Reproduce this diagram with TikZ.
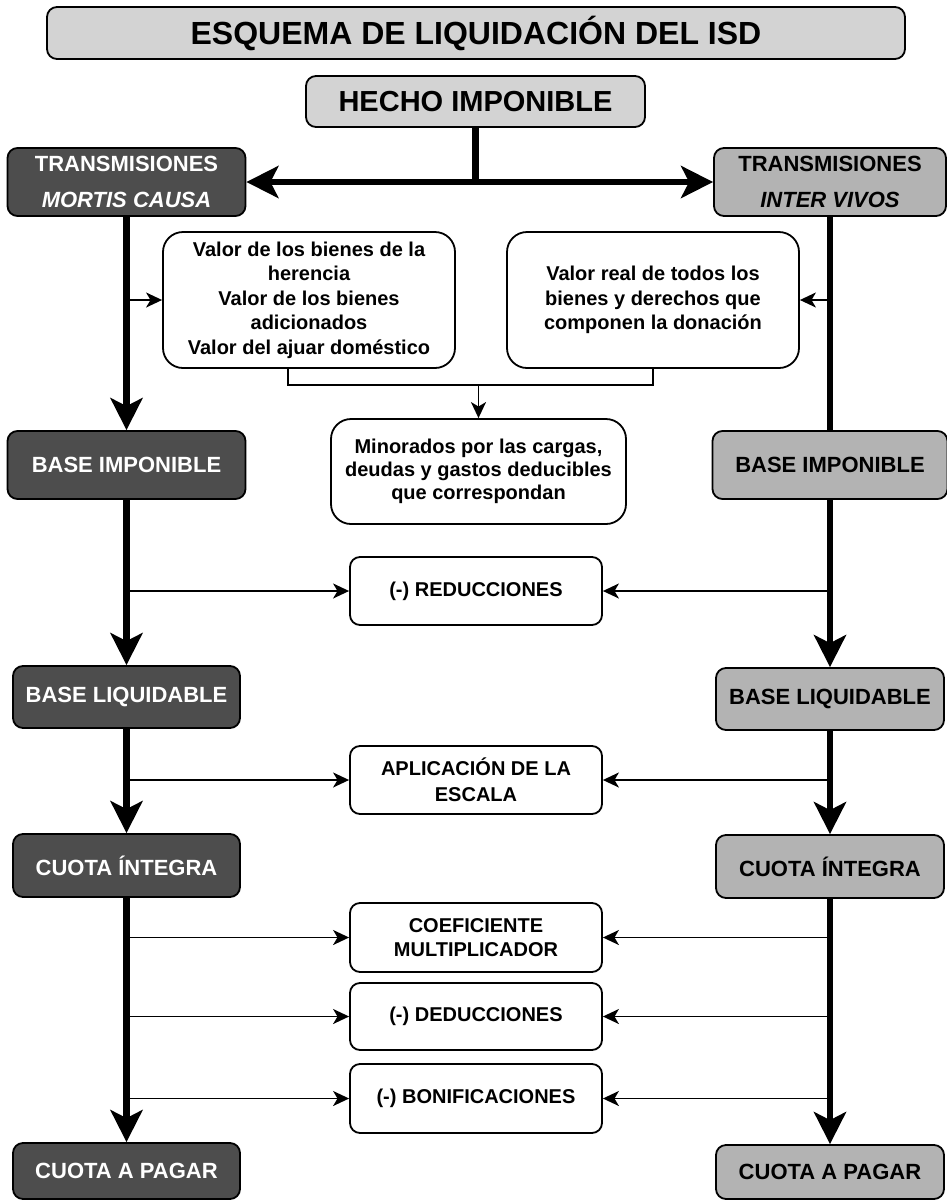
\documentclass[tikz,border=0pt]{standalone}
\usepackage{fontspec}
\setmainfont{Liberation Sans}
\usetikzlibrary{arrows.meta}
\definecolor{darkfill}{HTML}{4D4D4D}
\definecolor{greyfill}{HTML}{B3B3B3}
\definecolor{headfill}{HTML}{D3D3D3}
\tikzset{
    headbox/.style = {rectangle, rounded corners=5pt, line width=0.9pt, draw=black, align=center, inner sep=0pt, fill=headfill, text=black},
    darkbox/.style = {rectangle, rounded corners=5pt, line width=0.9pt, draw=black, align=center, inner sep=0pt, fill=darkfill, font=\bfseries\fontsize{11pt}{18pt}\selectfont, text=white},
    greybox/.style = {rectangle, rounded corners=5pt, line width=0.9pt, draw=black, align=center, inner sep=0pt, fill=greyfill, font=\bfseries\fontsize{11pt}{18pt}\selectfont, text=black},
    notebox/.style = {rectangle, rounded corners=10pt, line width=0.9pt, draw=black, align=center, inner sep=0pt, fill=white, font=\bfseries\fontsize{10pt}{12.25pt}\selectfont, text=black},
    stepbox/.style = {rectangle, rounded corners=5pt, line width=0.9pt, draw=black, align=center, inner sep=0pt, fill=white, font=\bfseries\fontsize{10pt}{12.5pt}\selectfont, text=black},
    spine/.style = {-, line width=3.4pt, black},
    spinearr/.style = {spine, -{Stealth[length=16pt,width=16pt,inset=4pt]}},
    spineboth/.style = {spine, {Stealth[length=16pt,width=16pt,inset=4pt]}-{Stealth[length=16pt,width=16pt,inset=4pt]}},
    thinline/.style = {-, line width=0.85pt, black},
    thinarr/.style = {thinline, -{Stealth[length=8pt,width=7.5pt,inset=2.2pt]}}
}
\begin{document}
\begin{tikzpicture}[x=0.5pt,y=-0.5pt]
\path[use as bounding box] (0,0) rectangle (947,1201);
%
\node[headbox, minimum width=429pt, minimum height=26pt, font=\bfseries\fontsize{16pt}{19pt}\selectfont] at (476,33) (title) {ESQUEMA DE LIQUIDACIÓN DEL ISD};
\node[headbox, minimum width=169.5pt, minimum height=25.5pt, font=\bfseries\fontsize{14.5pt}{17pt}\selectfont] at (475.5,101.5) (hecho) {HECHO IMPONIBLE};
%
\node[darkbox, minimum width=119pt, minimum height=34pt] at (126.5,182) (mortis) {TRANSMISIONES\\\textit{MORTIS CAUSA}};
\node[greybox, minimum width=116pt, minimum height=34pt] at (830,182) (inter) {TRANSMISIONES\\\textit{INTER VIVOS}};
%
\node[notebox, minimum width=146pt, minimum height=68pt] at (309,300) (herencia) {Valor de los bienes de la\\herencia\\Valor de los bienes\\adicionados\\Valor del ajuar doméstico};
\node[notebox, minimum width=146pt, minimum height=68pt] at (653,300) (donacion) {Valor real de todos los\\bienes y derechos que\\componen la donación};
\node[notebox, minimum width=147.5pt, minimum height=52.5pt, font=\bfseries\fontsize{10pt}{11.5pt}\selectfont] at (478.5,471.5) (cargas) {Minorados por las cargas,\\deudas y gastos deducibles\\que correspondan};
%
\node[darkbox, minimum width=119pt, minimum height=34pt] at (126.5,465) (bimp) {BASE IMPONIBLE};
\node[greybox, minimum width=117.5pt, minimum height=34pt] at (830,465) (bimpi) {BASE IMPONIBLE};
\node[stepbox, minimum width=126pt, minimum height=34pt] at (476,591) (reduc) {(-) REDUCCIONES};
%
\node[darkbox, minimum width=113.5pt, minimum height=31pt] at (126.5,697) (bliq) {BASE LIQUIDABLE};
\node[greybox, minimum width=114pt, minimum height=31pt] at (830,699) (bliqi) {BASE LIQUIDABLE};
\node[stepbox, minimum width=126pt, minimum height=34pt, font=\bfseries\fontsize{10pt}{13pt}\selectfont] at (476,780) (escala) {APLICACIÓN DE LA\\ESCALA};
%
\node[darkbox, minimum width=113.5pt, minimum height=31.5pt] at (126.5,865.5) (cint) {CUOTA ÍNTEGRA};
\node[greybox, minimum width=114pt, minimum height=31.5pt] at (830,866.5) (cinti) {CUOTA ÍNTEGRA};
\node[stepbox, minimum width=126pt, minimum height=34.5pt, font=\bfseries\fontsize{10pt}{12pt}\selectfont] at (476,937.5) (coef) {COEFICIENTE\\MULTIPLICADOR};
\node[stepbox, minimum width=126pt, minimum height=33.5pt] at (476,1016.5) (deduc) {(-) DEDUCCIONES};
\node[stepbox, minimum width=126pt, minimum height=34.5pt] at (476,1098.5) (bonif) {(-) BONIFICACIONES};
%
\node[darkbox, minimum width=113.5pt, minimum height=28pt] at (126.5,1171) (cpag) {CUOTA A PAGAR};
\node[greybox, minimum width=114pt, minimum height=27pt] at (830,1172) (cpagi) {CUOTA A PAGAR};
%
\coordinate (split) at (478.5,385);
%
\draw[spine] (hecho.south) -- (hecho.south |- mortis.east);
\draw[spineboth] (mortis.east) -- (inter.west);
%
\draw[spinearr] (mortis.south) -- (bimp.north);
\draw[spinearr] (bimp.south) -- (bliq.north);
\draw[spinearr] (bliq.south) -- (cint.north);
\draw[spinearr] (cint.south) -- (cpag.north);
\draw[spine] (inter.south) -- (bimpi.north);
\draw[spinearr] (bimpi.south) -- (bliqi.north);
\draw[spinearr] (bliqi.south) -- (cinti.north);
\draw[spinearr] (cinti.south) -- (cpagi.north);
%
\draw[thinarr] (mortis.south |- herencia.west) -- (herencia.west);
\draw[thinarr] (inter.south |- donacion.east) -- (donacion.east);
\draw[thinline] (herencia.south -| 288,0) |- (split) -| (donacion.south);
\draw[thinarr] (split) -- (cargas.north);
%
\draw[thinarr] (bimp.south |- reduc.west) -- (reduc.west);
\draw[thinarr] (bimpi.south |- reduc.east) -- (reduc.east);
\draw[thinarr] (bliq.south |- escala.west) -- (escala.west);
\draw[thinarr] (bliqi.south |- escala.east) -- (escala.east);
\draw[thinarr] (cint.south |- coef.west) -- (coef.west);
\draw[thinarr] (cinti.south |- coef.east) -- (coef.east);
\draw[thinarr] (cint.south |- deduc.west) -- (deduc.west);
\draw[thinarr] (cinti.south |- deduc.east) -- (deduc.east);
\draw[thinarr] (cint.south |- bonif.west) -- (bonif.west);
\draw[thinarr] (cinti.south |- bonif.east) -- (bonif.east);

\end{tikzpicture}
\end{document}
